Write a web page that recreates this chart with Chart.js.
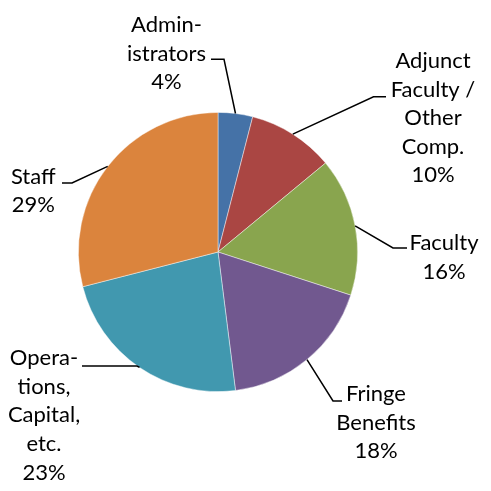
<!DOCTYPE html>
<html>
<head>
<meta charset="utf-8">
<script src="https://cdn.jsdelivr.net/npm/chart.js@4"></script>
<style>
  html, body { margin: 0; padding: 0; background: #ffffff; }
  #wrap { width: 491px; height: 491px; }
</style>
</head>
<body>
<div id="wrap"><canvas id="c" width="491" height="491"></canvas></div>
<script>
// ---- data ----
const categories = ["Administrators", "Adjunct Faculty / Other Comp.", "Faculty", "Fringe Benefits", "Operations, Capital, etc.", "Staff"];
const labelLines = [["Admin-", "istrators"], ["Adjunct", "Faculty /", "Other", "Comp."], ["Faculty"], ["Fringe", "Benefits"], ["Opera-", "tions,", "Capital,", "etc."], ["Staff"]];
const percentValues = [4, 10, 16, 18, 23, 29];
const sliceColors = ["#4572A7", "#AA4643", "#89A54E", "#71588F", "#4198AF", "#DB843D"];

// ---- label layout (text center x, first baseline y, line height, leader elbow, leader end) ----
const labelLayout = [
  { cx: 166.5, y: 32.3, lh: 28.2, elbow: [224, 59.3], end: [211, 59.3] },
  { cx: 433,   y: 68.3, lh: 28.5, elbow: [373.5, 96.7], end: [386, 96.7] },
  { cx: 444,   y: 250,  lh: 28.5, elbow: [393, 248], end: [407, 248] },
  { cx: 376,   y: 401,  lh: 28.5, elbow: [333, 401], end: [342, 401] },
  { cx: 44,    y: 365,  lh: 28.7, elbow: [137, 366], end: [82, 366] },
  { cx: 33.3,  y: 183.5, lh: 28.5, elbow: [72, 183], end: [62, 183] }
];
const labelFont = "22px Lato";

const leaderLabels = {
  id: 'leaderLabels',
  afterDatasetsDraw(chart) {
    const ctx = chart.ctx;
    const meta = chart.getDatasetMeta(0);
    ctx.save();
    meta.data.forEach((arc, i) => {
      const p = arc.getProps(['x', 'y', 'startAngle', 'endAngle', 'outerRadius'], true);
      const mid = (p.startAngle + p.endAngle) / 2;
      const sx = p.x + p.outerRadius * Math.cos(mid);
      const sy = p.y + p.outerRadius * Math.sin(mid);
      const L = labelLayout[i];
      ctx.strokeStyle = '#000000';
      ctx.lineWidth = 1.5;
      ctx.beginPath();
      ctx.moveTo(sx, sy);
      ctx.lineTo(L.elbow[0], L.elbow[1]);
      ctx.lineTo(L.end[0], L.end[1]);
      ctx.stroke();
      const lines = labelLines[i].concat([percentValues[i] + '%']);
      ctx.fillStyle = '#000000';
      ctx.font = labelFont;
      ctx.textAlign = 'center';
      ctx.textBaseline = 'alphabetic';
      lines.forEach((t, k) => ctx.fillText(t, L.cx, L.y + k * L.lh));
    });
    ctx.restore();
  }
};

new Chart(document.getElementById('c'), {
  type: 'pie',
  data: {
    labels: categories,
    datasets: [{
      data: percentValues,
      backgroundColor: sliceColors,
      borderColor: 'rgba(255,255,255,0.55)',
      borderWidth: 0.8
    }]
  },
  options: {
    responsive: false,
    animation: false,
    rotation: 0,
    layout: { padding: { left: 78, right: 133, top: 112, bottom: 99 } },
    plugins: { legend: { display: false }, tooltip: { enabled: false } }
  },
  plugins: [leaderLabels]
});
</script>
</body>
</html>
